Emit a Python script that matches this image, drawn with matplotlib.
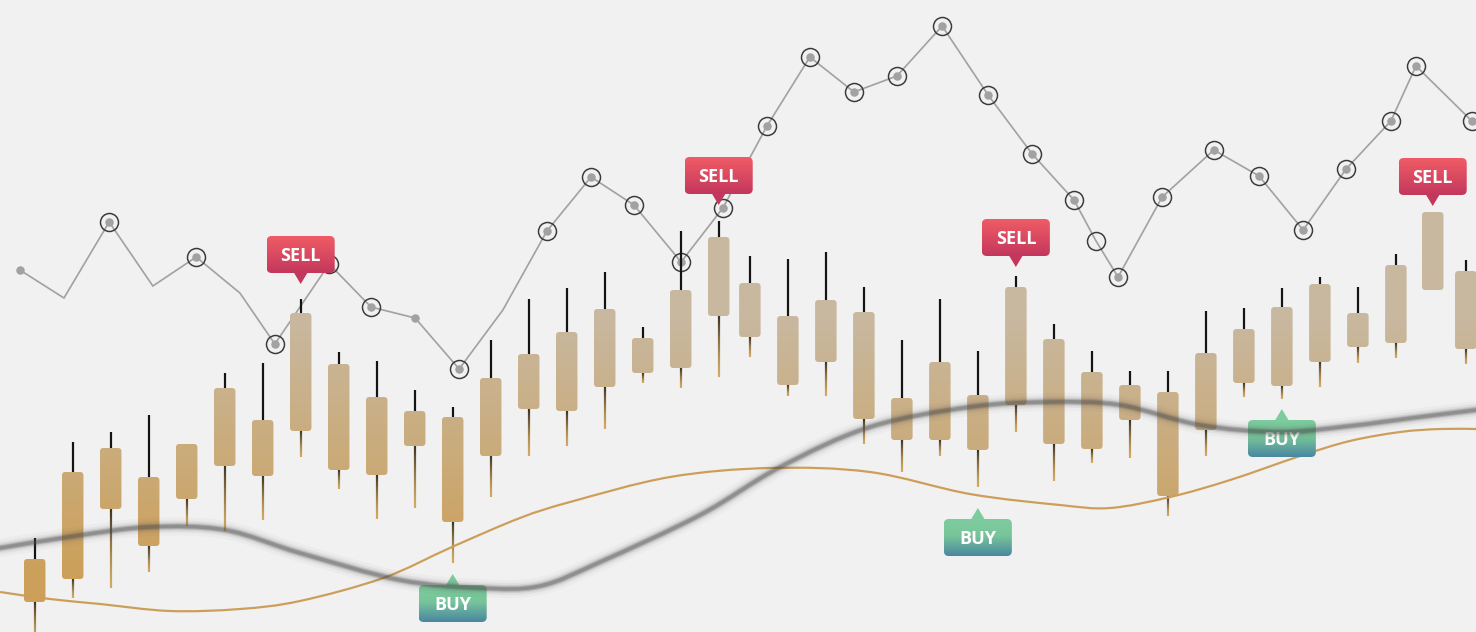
import numpy as np
import matplotlib
matplotlib.use("Agg")
import matplotlib.pyplot as plt
import matplotlib.colors as mcolors
from matplotlib.patches import FancyBboxPatch, Polygon, PathPatch
from matplotlib.collections import LineCollection
from matplotlib.path import Path

# ---------------- data ----------------
candle_t = [1, 2, 3, 4, 5, 6, 7, 8, 9, 10, 11, 12, 13, 14, 15, 16, 17, 18, 19,
            19.82, 20.82, 21.82, 22.82, 23.82, 24.82, 25.82, 26.82, 27.82, 28.82,
            29.82, 30.82, 31.82, 32.82, 33.82, 34.82, 35.82, 36.82, 37.79, 38.66]
high = [23.5, 47.5, 50, 54.25, 47, 64.75, 67.25, 83.25, 70, 67.75, 60.5, 56.25, 73,
        83.25, 86, 90, 76.25, 100.25, 102.75, 94, 93.25, 95, 86.25, 73, 83.25, 70.25,
        89, 77, 70.25, 65.25, 65.25, 80.25, 81, 86, 88.75, 86.25, 94.5, 105, 93]
close = [18.25, 40, 46, 38.75, 47, 61, 53, 79.75, 67, 58.75, 55.25, 53.75, 63.5,
         69.5, 75, 80.75, 73.5, 85.5, 98.75, 87.25, 79, 83, 80, 58.5, 67.5, 59.25,
         86.25, 73.25, 65, 61.75, 60, 69.75, 75.75, 81.25, 87, 79.75, 91.75, 105, 90.25]
open_ = [7.5, 13.25, 30.75, 21.5, 33.25, 41.5, 39, 50.25, 40.5, 39.25, 46.5, 27.5, 44,
         55.75, 55.25, 61.25, 64.75, 66, 79, 73.75, 61.75, 67.5, 53.25, 48, 48, 45.5,
         56.75, 47, 45.75, 53, 34, 50.5, 62.25, 61.5, 67.5, 71.25, 72.25, 85.5, 70.75]
low = [-2, 8.5, 11, 15, 26.5, 25.25, 28, 43.75, 35.75, 28.25, 31, 17.25, 33.75, 44,
       46.5, 50.75, 62.25, 61, 63.75, 68.75, 59, 59, 47, 40, 44, 36.25, 50, 37.75,
       42.25, 43.5, 29, 44, 58.75, 58.25, 61.25, 67.25, 68.5, 85.5, 67]

line_t = [0.61, 1.77, 2.96, 4.11, 5.25, 6.40, 7.32, 8.75, 9.85, 11.01, 12.17, 13.32,
          14.48, 15.64, 16.77, 18.01, 19.11, 20.27, 21.40, 22.56, 23.69, 24.88, 26.09,
          27.25, 28.35, 28.93, 29.51, 30.67, 32.03, 33.22, 34.38, 35.51, 36.69, 37.35, 38.82]
line_v = [90.5, 83.5, 102.5, 86.5, 93.75, 84.75, 72, 92, 81.25, 78.5, 65.75, 80.5,
          100.25, 113.75, 106.75, 92.5, 106, 126.5, 143.75, 135, 139, 151.5, 134.25,
          119.5, 108, 97.75, 88.75, 108.75, 120.5, 114, 100.5, 115.75, 127.75, 141.5, 127.75]
line_circle = [0, 0, 1, 0, 1, 0, 1, 1, 1, 0, 1, 0, 1, 1, 1, 1, 1, 1, 1, 1, 1, 1, 1, 1,
               1, 1, 1, 1, 1, 1, 1, 1, 1, 1, 1]
line_dot = [1, 0, 1, 0, 1, 0, 1, 1, 1, 1, 1, 0, 1, 1, 1, 1, 1, 1, 1, 1, 1, 1, 1, 1,
            1, 0, 1, 1, 1, 1, 1, 1, 1, 1, 1]

gold_t = [0.09, 1.40, 2.72, 4.56, 6.40, 7.98, 10.17, 11.98, 13.77, 15.09, 17.72, 20.35,
          22.98, 25.61, 27.98, 29.30, 30.88, 32.46, 34.30, 35.61, 36.93, 37.98, 38.93]
gold_v = [10, 8.25, 7, 5.25, 5.75, 7.75, 13.5, 21.25, 28.5, 32.5, 38.75, 41, 40, 34.5,
          31.75, 31, 33.75, 38, 44, 47.75, 50, 50.75, 50.75]

blur_t = [0.09, 2.06, 4.03, 6.01, 7.98, 10.61, 12.72, 14.30, 15.88, 18.51, 20.62,
          22.98, 25.61, 27.72, 29.56, 31.66, 33.77, 35.61, 37.45, 38.93]
blur_v = [21, 24, 26.25, 25.5, 19.75, 13, 11, 11.5, 17.5, 29.25, 41.25, 51.25, 56.25,
          57.5, 56.75, 51.75, 50, 51.5, 53.75, 55.5]

sell_idx = [7, 18, 26, 37]
sell_level = [87, 106.75, 91.25, 106.5]
buy_idx = [11, 25, 33]
buy_level = [14.5, 31, 55.75]

# ---------------- figure ----------------
W, H, DPI = 1476, 632, 100
X0, X1 = 0.087, 38.929
Y0, Y1 = 0.0, 158.0
sx = (X1 - X0) / W
sy = (Y1 - Y0) / H
PT = 72.0 / DPI

fig = plt.figure(figsize=(W / DPI, H / DPI), dpi=DPI, facecolor="#F1F1F1")
ax = fig.add_axes([0, 0, 1, 1])
ax.set_facecolor("#F1F1F1")
ax.set_axis_off()


def gradient_stops(stops, n):
    pos = [s[0] for s in stops]
    cols = np.array([mcolors.to_rgb(s[1]) for s in stops])
    f = np.linspace(0, 1, n)
    return np.stack([np.interp(f, pos, cols[:, k]) for k in range(3)], axis=1)


def grad_fill(x0, x1, y0, y1, rows, clip, z):
    arr = rows[:, None, :]
    im = ax.imshow(arr, extent=[x0, x1, y0, y1], origin="upper", aspect="auto",
                   interpolation="bilinear", zorder=z)
    im.set_clip_path(clip)


def smooth_path(x, y):
    pts = np.column_stack([np.asarray(x, float), np.asarray(y, float)])
    n = len(pts)
    verts = [pts[0]]
    codes = [Path.MOVETO]
    for i in range(n - 1):
        p0 = pts[i - 1] if i > 0 else pts[i]
        p1, p2 = pts[i], pts[i + 1]
        p3 = pts[i + 2] if i + 2 < n else pts[i + 1]
        verts += [p1 + (p2 - p0) / 6.0, p2 - (p3 - p1) / 6.0, p2]
        codes += [Path.CURVE4] * 3
    return Path(verts, codes)


# ---------------- polyline with markers ----------------
lt = np.array(line_t)
lv = np.array(line_v)
ax.plot(lt, lv, color="#A2A2A2", lw=1.7 * PT, zorder=2, solid_joinstyle="miter")
d = np.array(line_dot, bool)
c = np.array(line_circle, bool)
ax.plot(lt[d], lv[d], "o", ms=8.5 * PT, color="#A2A2A2", mec="none", zorder=2.2)
ax.plot(lt[c], lv[c], "o", ms=18 * PT, mfc="none", mec="#3A3A3A", mew=1.5 * PT, zorder=2.3)

# ---------------- candles ----------------
body_w = 21.5 * sx
rad = 3.5 * sx
c_beige = "#C8B89F"
c_gold = "#CCA05A"
p_hi, p_lo = 78.0, 15.0


def body_color(p):
    f = np.clip((p_hi - p) / (p_hi - p_lo), 0, 1)
    a = np.array(mcolors.to_rgb(c_beige))
    b = np.array(mcolors.to_rgb(c_gold))
    return a * (1 - f)[:, None] + b * f[:, None]


up_segs, lo_segs, lo_cols = [], [], []
wick_dark = np.array(mcolors.to_rgb("#3C3222"))
wick_gold = np.array(mcolors.to_rgb("#D2A862"))
for t, h, o, cl, l in zip(candle_t, high, open_, close, low):
    top, bot = max(o, cl), min(o, cl)
    if h > top:
        up_segs.append([(t, h), (t, top)])
    if l < bot:
        n = 24
        ys = np.linspace(bot, l, n + 1)
        for k in range(n):
            lo_segs.append([(t, ys[k]), (t, ys[k + 1])])
            f = (k + 0.5) / n
            lo_cols.append(wick_dark * (1 - f) ** 1.5 + wick_gold * (1 - (1 - f) ** 1.5))
    patch = FancyBboxPatch((t - body_w / 2, bot), body_w, top - bot,
                           boxstyle=f"round,pad=0,rounding_size={rad}",
                           mutation_aspect=sy / sx, fc="none", ec="none", zorder=3)
    ax.add_patch(patch)
    rows = body_color(np.linspace(top, bot, 64))
    grad_fill(t - body_w / 2, t + body_w / 2, bot, top, rows, patch, 3)

ax.add_collection(LineCollection(up_segs, colors="#141414", linewidths=2.2 * PT,
                                 zorder=2.8, capstyle="butt"))
ax.add_collection(LineCollection(lo_segs, colors=lo_cols, linewidths=2.2 * PT,
                                 zorder=2.8, capstyle="butt"))

# ---------------- gold smooth line ----------------
ax.add_patch(PathPatch(smooth_path(gold_t, gold_v), fill=False, ec="#CC9E5A",
                       lw=2.2 * PT, zorder=4))

# ---------------- signal labels ----------------
sell_rows = gradient_stops([(0, "#F05C65"), (1, "#C3375D")], 64)
buy_rows = gradient_stops([(0, "#7DCC9E"), (0.45, "#78C59A"), (1, "#4A87A1")], 64)


def signal_label(t, level, text, kind):
    bw, bh, gap, tw = 68 * sx, 37 * sy, 11 * sy, 7.5 * sx
    if kind == "sell":
        yb = level + gap
        yt = yb + bh
        tri = [(t - tw, yb + 1.5 * sy), (t + tw, yb + 1.5 * sy), (t, level)]
        rows = sell_rows
        tcol = rows[-1]
    else:
        yt = level - gap
        yb = yt - bh
        tri = [(t - tw, yt - 1.5 * sy), (t + tw, yt - 1.5 * sy), (t, level)]
        rows = buy_rows
        tcol = rows[0]
    box = FancyBboxPatch((t - bw / 2, yb), bw, bh,
                         boxstyle=f"round,pad=0,rounding_size={5 * sx}",
                         mutation_aspect=sy / sx, fc="none", ec="none", zorder=10)
    ax.add_patch(box)
    grad_fill(t - bw / 2, t + bw / 2, yb, yt, rows, box, 10)
    ax.add_patch(Polygon(tri, closed=True, fc=tcol, ec="none", zorder=10))
    ax.text(t, (yb + yt) / 2 - 6.5 * sy, text, color="white", fontsize=13,
            fontweight="bold", family=["Open Sans", "DejaVu Sans"],
            ha="center", va="baseline", zorder=11)


for i, lv_ in zip(sell_idx, sell_level):
    signal_label(candle_t[i], lv_, "SELL", "sell")
for i, lv_ in zip(buy_idx, buy_level):
    signal_label(candle_t[i], lv_, "BUY", "buy")

# ---------------- blurred gray smooth line ----------------
bpath = smooth_path(blur_t, blur_v)
for lw_px, a in [(18, 0.03), (12, 0.07), (8, 0.13), (5.5, 0.22), (3.5, 0.3)]:
    ax.add_patch(PathPatch(bpath, fill=False, ec="#4A4A4A", lw=lw_px * PT,
                           alpha=a, zorder=12, capstyle="round"))

ax.set_xlim(X0, X1)
ax.set_ylim(Y0, Y1)
fig.savefig("out.png", dpi=DPI, facecolor=fig.get_facecolor())
